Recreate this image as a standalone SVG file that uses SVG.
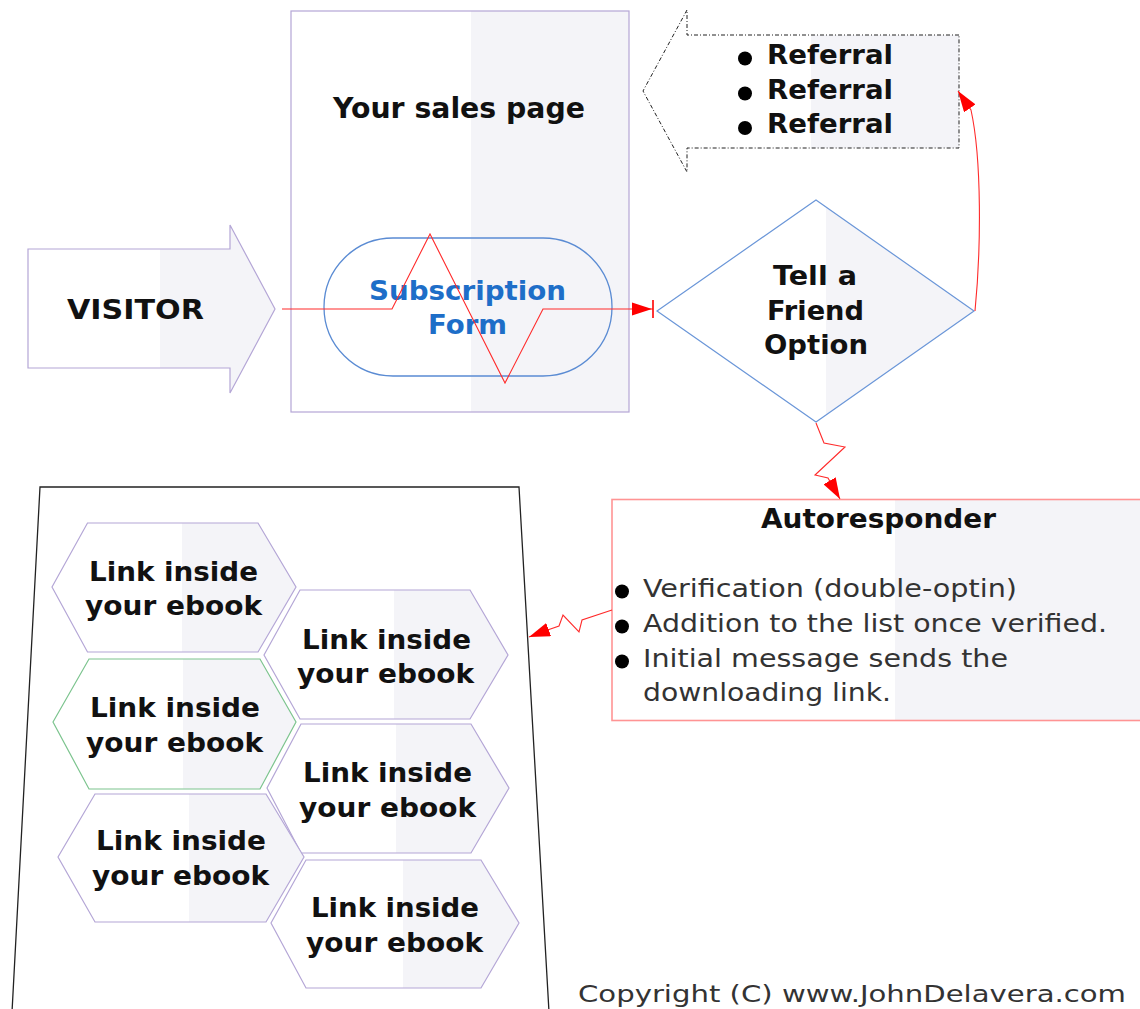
<svg xmlns="http://www.w3.org/2000/svg" width="1140" height="1009" viewBox="0 0 1140 1009">
<defs>
<linearGradient id="split" x1="0" y1="0" x2="1" y2="0">
<stop offset="0" stop-color="#ffffff"/>
<stop offset="0.533" stop-color="#ffffff"/>
<stop offset="0.533" stop-color="#f4f4f8"/>
<stop offset="1" stop-color="#f4f4f8"/>
</linearGradient>
<marker id="arr" viewBox="0 0 21 14" markerWidth="21" markerHeight="14" refX="21" refY="7" orient="auto" markerUnits="userSpaceOnUse">
<path d="M0,0 L21,7 L0,14 Z" fill="#ff0000"/>
</marker>
<marker id="arrbar" viewBox="0 0 24 20" markerWidth="24" markerHeight="20" refX="22" refY="10" orient="auto" markerUnits="userSpaceOnUse">
<path d="M1,3.5 L21,10 L1,16.5 Z" fill="#ff0000"/>
<line x1="22" y1="1" x2="22" y2="19" stroke="#ff0000" stroke-width="1.6"/>
</marker>
</defs>
<style>
.lav{fill:url(#split);stroke:#b4a6d6;stroke-width:1.2}
.b{font-family:"DejaVu Sans",Verdana,sans-serif;font-weight:bold;fill:#111}
.r{font-family:"DejaVu Sans",Verdana,sans-serif;fill:#333}
.c{text-anchor:middle}
.hx{font-size:26px}
.con{fill:none;stroke:#ff2a2a;stroke-width:1.1}
.dot{fill:#000}
</style>
<rect width="1140" height="1009" fill="#ffffff"/>

<g id="ebook-page">
<path d="M12 1012 L40 487 L519 487 L549 1012" fill="none" stroke="#222" stroke-width="1.3"/>
</g>

<g id="sales-page">
<rect class="lav" x="291" y="11" width="338" height="401"/>
<text class="b c" x="459" y="118" font-size="28" textLength="252" lengthAdjust="spacingAndGlyphs">Your sales page</text>
</g>

<g id="subscription-form">
<rect x="324" y="238" width="288" height="138" rx="69" ry="69" fill="none" stroke="#5a8bd3" stroke-width="1.3"/>
<text class="b c" x="467.5" y="300" font-size="26" style="fill:#1e6ec8" textLength="197" lengthAdjust="spacingAndGlyphs">Subscription</text>
<text class="b c" x="467.5" y="334" font-size="26" style="fill:#1e6ec8" textLength="79" lengthAdjust="spacingAndGlyphs">Form</text>
</g>

<g id="visitor">
<polygon class="lav" points="28,249 230,249 230,225 275,309 230,393 230,368 28,368"/>
<text class="b c" x="135.5" y="319" font-size="27" textLength="137" lengthAdjust="spacingAndGlyphs">VISITOR</text>
</g>

<g id="referral">
<polygon points="959,35 687,35 687,10 643,91 687,172 687,148 959,148" fill="url(#split)" stroke="#222" stroke-width="1" stroke-dasharray="4 2 1 2"/>
<circle class="dot" cx="745" cy="58.5" r="7"/>
<circle class="dot" cx="745" cy="93.5" r="7"/>
<circle class="dot" cx="745" cy="128" r="7"/>
<text class="b" x="767" y="64" font-size="27" textLength="126" lengthAdjust="spacingAndGlyphs">Referral</text>
<text class="b" x="767" y="99" font-size="27" textLength="126" lengthAdjust="spacingAndGlyphs">Referral</text>
<text class="b" x="767" y="133" font-size="27" textLength="126" lengthAdjust="spacingAndGlyphs">Referral</text>
</g>

<g id="tell-a-friend">
<polygon points="816,200 974,311 816,422 657,311" fill="url(#split)" stroke="#6a96d8" stroke-width="1.2"/>
<text class="b c" x="815" y="285" font-size="27" textLength="84" lengthAdjust="spacingAndGlyphs">Tell a</text>
<text class="b c" x="815.5" y="320" font-size="27" textLength="97" lengthAdjust="spacingAndGlyphs">Friend</text>
<text class="b c" x="816" y="354" font-size="27" textLength="104" lengthAdjust="spacingAndGlyphs">Option</text>
</g>

<g id="autoresponder">
<rect x="612" y="499.5" width="531" height="221" fill="url(#split)" stroke="#ff9494" stroke-width="1.6"/>
<text class="b c" x="878.5" y="528" font-size="26" textLength="235" lengthAdjust="spacingAndGlyphs">Autoresponder</text>
<circle class="dot" cx="622" cy="591.5" r="7"/>
<circle class="dot" cx="622" cy="626.5" r="7"/>
<circle class="dot" cx="622" cy="661.5" r="7"/>
<text class="r" x="643" y="597" font-size="24" textLength="374" lengthAdjust="spacingAndGlyphs">Verification (double-optin)</text>
<text class="r" x="643" y="632" font-size="24" textLength="464" lengthAdjust="spacingAndGlyphs">Addition to the list once verified.</text>
<text class="r" x="643" y="667" font-size="24" textLength="365" lengthAdjust="spacingAndGlyphs">Initial message sends the</text>
<text class="r" x="643" y="701" font-size="24" textLength="248" lengthAdjust="spacingAndGlyphs">downloading link.</text>
</g>

<g id="link-1">
<polygon class="lav" points="52,587 87.5,523 258,523 296,587 258,652 87.5,652"/>
<text class="b c hx" x="173.5" y="581" textLength="169" lengthAdjust="spacingAndGlyphs">Link inside</text>
<text class="b c hx" x="173.5" y="615" textLength="177" lengthAdjust="spacingAndGlyphs">your ebook</text>
</g>
<g id="link-2">
<polygon class="lav" points="264,655 300,590 470,590 508,655 470,719 300,719"/>
<text class="b c hx" x="386.5" y="649" textLength="169" lengthAdjust="spacingAndGlyphs">Link inside</text>
<text class="b c hx" x="385.5" y="683" textLength="177" lengthAdjust="spacingAndGlyphs">your ebook</text>
</g>
<g id="link-3">
<polygon points="53,722 89,659 260,659 296,722 260,789 89,789" fill="url(#split)" stroke="#7cc48e" stroke-width="1.2"/>
<text class="b c hx" x="175" y="717" textLength="170" lengthAdjust="spacingAndGlyphs">Link inside</text>
<text class="b c hx" x="174.5" y="752" textLength="177" lengthAdjust="spacingAndGlyphs">your ebook</text>
</g>
<g id="link-4">
<polygon class="lav" points="267,788 301,724 471,724 509,788 471,853 301,853"/>
<text class="b c hx" x="387.5" y="782" textLength="169" lengthAdjust="spacingAndGlyphs">Link inside</text>
<text class="b c hx" x="387.5" y="817" textLength="177" lengthAdjust="spacingAndGlyphs">your ebook</text>
</g>
<g id="link-5">
<polygon class="lav" points="58,857 95,794 266,794 304,857 266,922 95,922"/>
<text class="b c hx" x="181" y="850" textLength="170" lengthAdjust="spacingAndGlyphs">Link inside</text>
<text class="b c hx" x="180.5" y="885" textLength="177" lengthAdjust="spacingAndGlyphs">your ebook</text>
</g>
<g id="link-6">
<polygon class="lav" points="271,923 306,860 481,860 519,923 481,988 306,988"/>
<text class="b c hx" x="395" y="917" textLength="168" lengthAdjust="spacingAndGlyphs">Link inside</text>
<text class="b c hx" x="394.5" y="952" textLength="177" lengthAdjust="spacingAndGlyphs">your ebook</text>
</g>

<g id="connectors">
<path class="con" d="M282 309 L392 309 L430 234 L505 383 L543 309 L653 309" marker-end="url(#arrbar)"/>
<path class="con" d="M975 311 C981 250 982 160 971 110 L958 91" marker-end="url(#arr)"/>
<path class="con" d="M816 423 L824 443 L845 447 L815 475 L828 478 L840 499" marker-end="url(#arr)"/>
<path class="con" d="M612 610 L582 620 L579 632 L563 615 L559 626 L549 629.5 L529 637" marker-end="url(#arr)"/>
</g>

<text id="copyright" class="r" x="578" y="1002" font-size="23" textLength="548" lengthAdjust="spacingAndGlyphs">Copyright (C) www.JohnDelavera.com</text>
</svg>
